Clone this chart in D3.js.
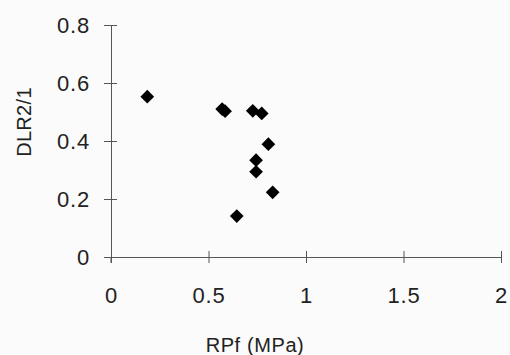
<!DOCTYPE html>
<html>
<head>
<meta charset="utf-8">
<script src="https://cdn.jsdelivr.net/npm/d3@7"></script>
<style>
  body { margin: 0; background: #fbfbfb; }
  text { font-family: "Liberation Sans", Arial, sans-serif; fill: #222; }
</style>
</head>
<body>
<div id="chart"></div>
<script>
// RPf (MPa) vs DLR2/1
const rpf = [0.186, 0.57, 0.585, 0.727, 0.773, 0.807, 0.744, 0.744, 0.829, 0.645];
const dlr = [0.553, 0.51, 0.503, 0.504, 0.495, 0.389, 0.334, 0.294, 0.223, 0.141];
const xTicks = [0, 0.5, 1, 1.5, 2];
const yTicks = [0, 0.2, 0.4, 0.6, 0.8];

const data = rpf.map((d, i) => ({ x: d, y: dlr[i] }));

const svg = d3.select('#chart')
  .append('svg')
  .attr('width', 510)
  .attr('height', 355);

const x = d3.scaleLinear().domain([0, 2]).range([111, 501]);
const y = d3.scaleLinear().domain([0, 0.8]).range([257, 25]);

const axisColor = '#555';

const gx = svg.append('g')
  .attr('transform', 'translate(0,257)')
  .call(d3.axisBottom(x).tickValues(xTicks).tickFormat(d3.format('')).tickSize(6).tickSizeOuter(0).tickPadding(24));
gx.selectAll('.tick line').attr('y1', -6);

const gy = svg.append('g')
  .attr('transform', 'translate(111,0)')
  .call(d3.axisLeft(y).tickValues(yTicks).tickFormat(d3.format('')).tickSize(7).tickSizeOuter(0).tickPadding(14));
gy.selectAll('.tick line').attr('x1', 6);

[gx, gy].forEach(g => {
  g.selectAll('path, line').attr('stroke', axisColor);
  g.selectAll('text')
    .style('font-size', '22px')
    .style('letter-spacing', '0.8px')
    .attr('fill', '#222');
});

svg.append('line')
  .attr('x1', 111).attr('x2', 111)
  .attr('y1', 257).attr('y2', 263)
  .attr('stroke', axisColor);

svg.selectAll('path.pt')
  .data(data)
  .enter()
  .append('path')
  .attr('class', 'pt')
  .attr('d', d3.symbol().type(d3.symbolDiamond2).size(120))
  .attr('transform', d => `translate(${x(d.x)},${y(d.y)})`)
  .attr('fill', '#000');

svg.append('text')
  .attr('x', 255)
  .attr('y', 352)
  .attr('text-anchor', 'middle')
  .style('font-size', '20px')
  .style('letter-spacing', '0.6px')
  .text('RPf (MPa)');

svg.append('text')
  .attr('transform', 'translate(31,122) rotate(-90)')
  .attr('text-anchor', 'middle')
  .style('font-size', '20px')
  .style('letter-spacing', '0.3px')
  .text('DLR2/1');
</script>
</body>
</html>
